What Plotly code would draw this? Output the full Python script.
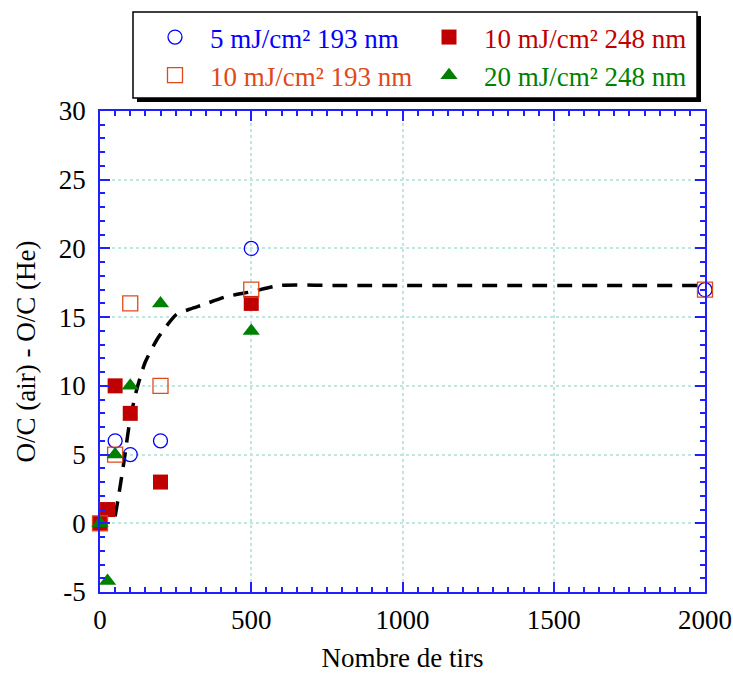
import plotly.graph_objects as go

# Data
x_blue = [0, 50, 100, 200, 500, 2000]
y_blue = [0, 6, 5, 6, 20, 17]

x_orange = [0, 50, 100, 200, 500, 2000]
y_orange = [0, 5, 16, 10, 17, 17]

x_red = [0, 25, 50, 100, 200, 500]
y_red = [0, 1, 10, 8, 3, 16]

x_green = [0, 25, 50, 100, 200, 500]
y_green = [0, -4.2, 5, 10, 16, 14]

x_fit = [50, 66, 80, 99, 121, 149, 192, 253, 300, 341, 419, 501, 595, 800, 2000]
y_fit = [0.5, 2.6, 4.6, 7.5, 9.7, 11.7, 13.5, 15.2, 15.6, 15.9, 16.5, 16.85, 17.3, 17.3, 17.3]

x_tickvals = [0, 500, 1000, 1500, 2000]
x_ticktext = ["0", "500", "1000", "1500", "2000"]
y_tickvals = [-5, 0, 5, 10, 15, 20, 25, 30]
y_ticktext = ["-5", "0", "5", "10", "15", "20", "25", "30"]

names = ["5 mJ/cm² 193 nm", "10 mJ/cm² 248 nm", "10 mJ/cm² 193 nm", "20 mJ/cm² 248 nm"]

FONT = "Liberation Serif, Times New Roman, serif"
AXIS_BLUE = "#2020ff"
GRID = "#bfe6e0"
FS = 27

# figure size (body margin removed by post_script)
W, H = 733, 673
# plot area in pixels
L, R, T, B = 100, 705, 111, 592
PW, PH = R - L, B - T


def px(xp):
    return (xp - L) / PW


def py(yp):
    return (B - yp) / PH


fig = go.Figure()

fig.add_trace(go.Scatter(x=x_fit, y=y_fit, mode="lines", showlegend=False,
                         line=dict(color="black", width=3.5, dash="15px,10px",
                                   shape="spline", smoothing=0.6)))

fig.add_trace(go.Scatter(x=x_blue, y=y_blue, mode="markers", cliponaxis=False,
                         name='<span style="color:#0000ff">' + names[0] + '</span>',
                         marker=dict(symbol="circle-open", size=14, color="#0000ff",
                                     line=dict(width=1.3, color="#0000ff"))))
fig.add_trace(go.Scatter(x=x_red, y=y_red, mode="markers", cliponaxis=False,
                         name='<span style="color:#c00000">' + names[1] + '</span>',
                         marker=dict(symbol="square", size=15, color="#c00000",
                                     line=dict(width=0))))
fig.add_trace(go.Scatter(x=x_orange, y=y_orange, mode="markers", cliponaxis=False,
                         name='<span style="color:#e04a1a">' + names[2] + '</span>',
                         marker=dict(symbol="square-open", size=15, color="#e04a1a",
                                     line=dict(width=1.3, color="#e04a1a"))))
fig.add_trace(go.Scatter(x=x_green, y=y_green, mode="markers", cliponaxis=False,
                         name='<span style="color:#008000">' + names[3] + '</span>',
                         marker=dict(symbol="triangle-up", size=15, color="#008000",
                                     line=dict(width=0))))

axis_common = dict(
    showline=True, linecolor=AXIS_BLUE, linewidth=1.5, mirror="ticks",
    ticks="inside", ticklen=10, tickwidth=1.5, tickcolor=AXIS_BLUE,
    showgrid=True, gridcolor=GRID, griddash="dot", gridwidth=1.5,
    zeroline=False,
    tickfont=dict(family=FONT, size=FS, color="black"),
)

fig.update_xaxes(range=[0, 2000], tickvals=x_tickvals, ticktext=x_ticktext,
                 minor=dict(dtick=50, ticks="inside", ticklen=5, tickcolor=AXIS_BLUE, showgrid=False),
                 ticklabelstandoff=3,
                 title=dict(text="Nombre de tirs", font=dict(family=FONT, size=FS, color="black"), standoff=16),
                 **axis_common)
fig.update_yaxes(range=[-5, 30], tickvals=y_tickvals, ticktext=y_ticktext,
                 minor=dict(dtick=1, ticks="inside", ticklen=5, tickcolor=AXIS_BLUE, showgrid=False),
                 ticklabelstandoff=7,
                 title=dict(text="O/C (air) - O/C (He)", font=dict(family=FONT, size=FS, color="black"), standoff=15),
                 **axis_common)

# legend shadow and box
fig.add_shape(type="rect", xref="paper", yref="paper",
              x0=px(137), x1=px(701), y0=py(102), y1=py(16),
              fillcolor="black", line=dict(width=0), layer="above")
fig.add_shape(type="rect", xref="paper", yref="paper",
              x0=px(133), x1=px(697), y0=py(98), y1=py(12),
              fillcolor="white", line=dict(width=1.5, color="black"), layer="above")

fig.update_layout(
    width=W, height=H,
    margin=dict(l=L, r=W - R, t=T, b=H - B, autoexpand=False),
    paper_bgcolor="white", plot_bgcolor="white",
    font=dict(family=FONT, size=FS, color="black"),
    legend=dict(orientation="h", x=px(140), y=py(13),
                xanchor="left", yanchor="top",
                bgcolor="rgba(0,0,0,0)", borderwidth=0,
                font=dict(family=FONT, size=FS),
                entrywidth=199, entrywidthmode="pixels", itemwidth=60,
                tracegroupgap=0),
)

fig.write_html("out.html", config={"displayModeBar": False},
               post_script="document.body.style.margin='0';document.body.style.overflow='hidden';")
